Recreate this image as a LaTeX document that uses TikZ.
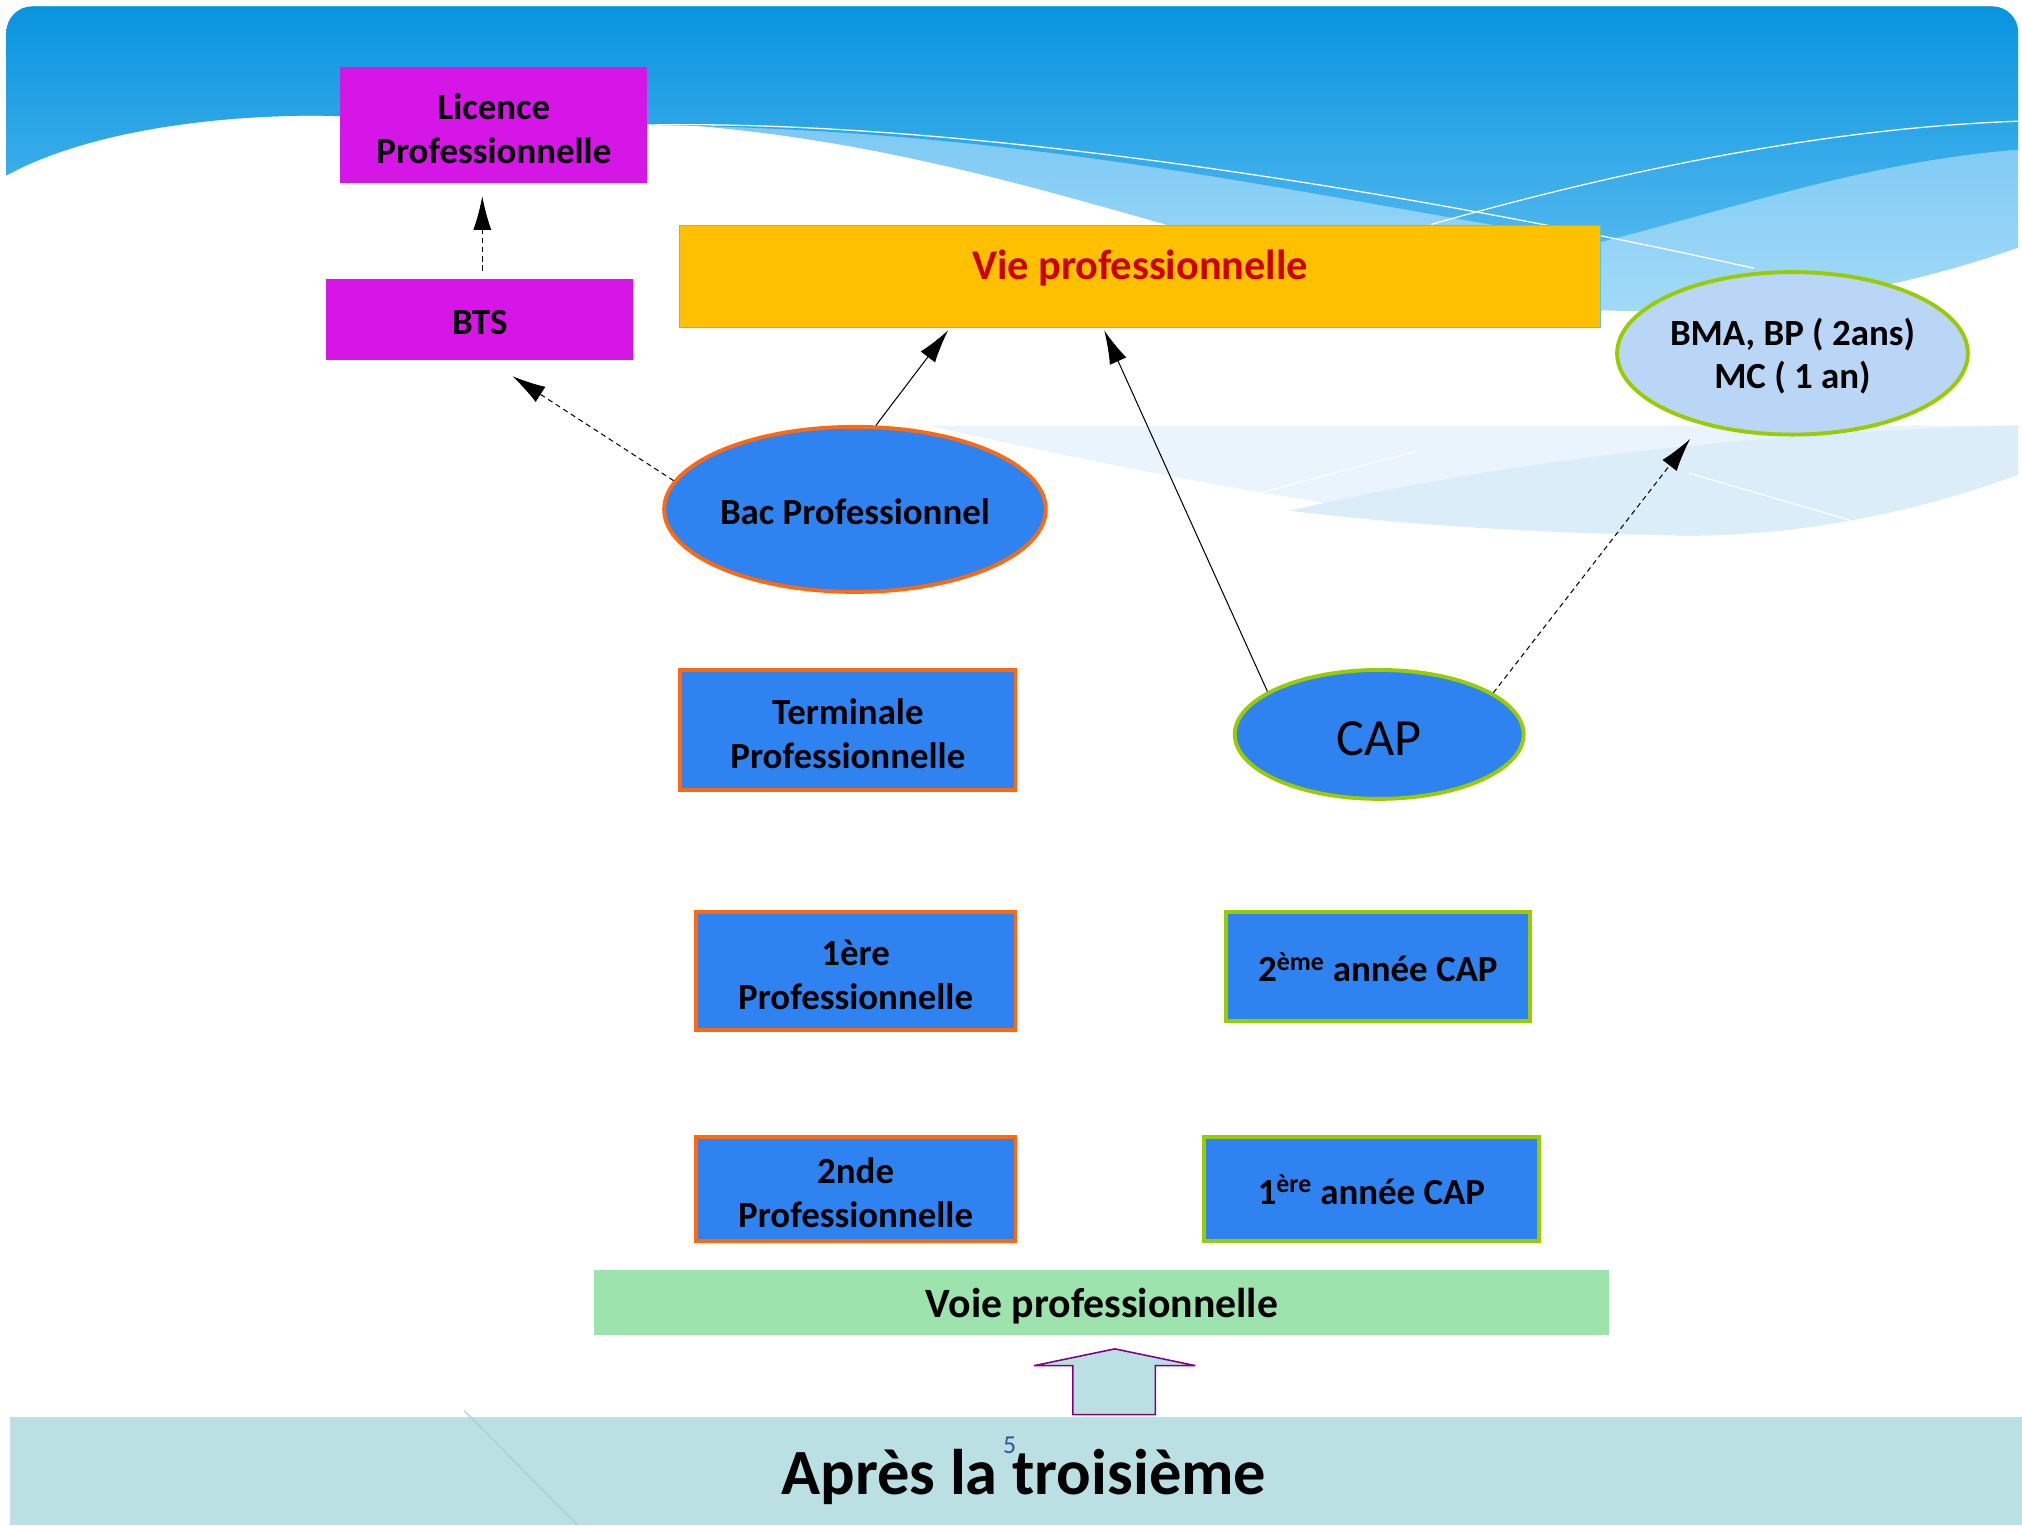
\documentclass[tikz,border=0pt]{standalone}
\usepackage{fontspec}
\setmainfont{Carlito}
\usepackage{tikz}
\usetikzlibrary{arrows.meta,shapes,positioning,calc}

\definecolor{boxblue}{HTML}{2E83F0}
\definecolor{edgeorange}{HTML}{FF6A10}
\definecolor{edgegreen}{HTML}{99CC00}
\definecolor{lilac}{HTML}{D616E6}
\definecolor{gold}{HTML}{FFC000}
\definecolor{goldedge}{HTML}{5BC2E0}
\definecolor{vired}{HTML}{CC0000}
\definecolor{mint}{HTML}{9DE3AE}
\definecolor{pale}{HTML}{BBE0E3}
\definecolor{paleline}{HTML}{A6D3D8}
\definecolor{skyblue}{HTML}{B9D6F7}
\definecolor{topblue}{HTML}{0894DF}
\definecolor{midblue}{HTML}{4FB7EE}
\definecolor{ribbon}{HTML}{66BFF1}
\definecolor{ribbonlow}{HTML}{A2DAF8}
\definecolor{mist}{HTML}{E9F4FC}
\definecolor{mistdark}{HTML}{DCEDFA}
\definecolor{numblue}{HTML}{2F5597}
\definecolor{plum}{HTML}{800080}

\begin{document}
\begin{tikzpicture}[x=1pt, y=-1pt,
        prof/.style={rectangle, draw=edgeorange, fill=boxblue, line width=3pt, align=center, inner sep=0pt, font=\bfseries\fontsize{28.6}{34}\selectfont},
        capr/.style={prof, draw=edgegreen},
        oval/.style={ellipse, fill=boxblue, line width=3pt, align=center, inner sep=0pt, font=\bfseries\fontsize{28.6}{34}\selectfont},
        highbox/.style={rectangle, fill=lilac, align=center, inner sep=0pt, font=\bfseries\fontsize{28.6}{34}\selectfont},
        oneline/.style={text height=24pt},
        twoline/.style={text height=60pt, text depth=0pt},
        link/.style={-{Latex[length=26pt,width=14pt]}, line width=0.8pt},
        dashlink/.style={link, dash pattern=on 4pt off 3pt}]
    \useasboundingbox (0,0) rectangle (1568,1182.6);

    % background: blue wave on top, pale ribbon in the middle, band at the bottom
    \shade[top color=ribbon, bottom color=ribbonlow] (5,136) [rounded corners=20pt] -- (5,5) -- (1565,5) [sharp corners] -- (1565,192)
        .. controls (1500,215) and (1400,242) .. (1255,241) .. controls (1000,235) and (800,110) .. (500,95) -- (260,90) .. controls (200,88) and (80,95) .. (5,136) -- cycle;
    \shade[top color=topblue, bottom color=midblue] (5,136) [rounded corners=20pt] -- (5,5) -- (1565,5) [sharp corners] -- (1565,116)
        .. controls (1450,125) and (1350,160) .. (1240,188) .. controls (1000,150) and (800,100) .. (500,97) -- (260,90) .. controls (200,88) and (80,95) .. (5,136) -- cycle;
    \draw[white, line width=1pt] (500,97) .. controls (750,92) and (1100,150) .. (1360,208);
    \draw[white, line width=1pt] (1110,174) .. controls (1300,120) and (1450,98) .. (1565,94);
    \fill[mist] (720,330) -- (1565,330) -- (1565,368) .. controls (1480,400) and (1380,418) .. (1290,415) .. controls (1100,410) and (900,370) .. (720,330) -- cycle;
    \fill[mistdark] (1000,396) .. controls (1200,350) and (1400,334) .. (1565,330) -- (1565,368) .. controls (1480,400) and (1380,418) .. (1290,415) .. controls (1180,413) and (1080,406) .. (1000,396) -- cycle;
    \draw[white, line width=0.8pt] (970,384) -- (1098,350);
    \draw[white, line width=0.8pt] (1310,367) -- (1440,405);
    \fill[pale] (8,1099) rectangle (1568,1182.6);
    \draw[paleline, line width=1pt] (360,1094) -- (448,1182.6);

    % upper level
    \node[highbox, twoline, minimum width=238pt, minimum height=90pt] (lic) at (383,97) {Licence\\Professionnelle};
    \node[highbox, oneline, minimum width=238pt, minimum height=63pt] (bts) at (372,247.5) {BTS};
    \node[rectangle, draw=goldedge, fill=gold, line width=1pt, minimum width=714pt, minimum height=79pt, text height=24pt, text depth=20pt, text=vired, font=\bfseries\fontsize{32.8}{38}\selectfont] (vie) at (884,214.5) {Vie professionnelle};
    \node[oval, text depth=0pt, fill=skyblue, draw=edgegreen, minimum width=272pt, minimum height=126pt] (bma) at (1390,274) {BMA, BP ( 2ans)\\MC ( 1 an)};

    % bac pro track
    \node[oval, oneline, draw=edgeorange, minimum width=296pt, minimum height=128pt] (bac) at (663,395) {Bac Professionnel};
    \node[prof, twoline, minimum width=260pt, minimum height=93pt] (term) at (657.5,566) {Terminale\\Professionnelle};
    \node[prof, twoline, minimum width=248pt, minimum height=91pt] (prem) at (663.5,753) {1ère\\Professionnelle};
    \node[prof, twoline, minimum width=248pt, minimum height=81pt] (sec) at (663.5,922) {2nde\\Professionnelle};

    % cap track
    \node[oval, draw=edgegreen, minimum width=224pt, minimum height=100pt, text height=33pt, font=\fontsize{40.5}{48}\selectfont] (cap) at (1069.5,569.5) {CAP};
    \node[capr, oneline, minimum width=236pt, minimum height=84pt] (cap2) at (1068.5,749.5) {2\textsuperscript{ème} année CAP};
    \node[capr, oneline, minimum width=260pt, minimum height=81pt] (cap1) at (1063.5,922) {1\textsuperscript{ère} année CAP};

    % entry
    \node[rectangle, fill=mint, minimum width=787pt, minimum height=50pt, text height=30pt, text depth=6pt, font=\bfseries\fontsize{32.4}{38}\selectfont] (voie) at (854.5,1010) {Voie professionnelle};
    \node[font=\bfseries\fontsize{50}{60}\selectfont] (after) at (794,1145) {Après la troisième};
    \node[text=numblue, font=\fontsize{20}{24}\selectfont, inner sep=0pt] (page) at (783,1121) {5};
    \draw[plum, fill=pale, line width=1.2pt, miter limit=2] (832,1097) -- (832,1059) -- (802,1059) -- (864.5,1046) -- (927,1059) -- (896,1059) -- (896,1097) -- cycle; % block arrow up to voie

    % connectors
    \draw[dashlink, shorten <=6pt, shorten >=10pt] ([xshift=2pt]bts.north) -- ([xshift=2pt]bts.north |- lic.south); % BTS -> licence
    \draw[dashlink, shorten >=23pt] (bac.171) -- ([xshift=6pt]bts.south);          % bac -> BTS
    \draw[link, shorten >=2pt] (bac.76) -- ([xshift=210pt]vie.south west);          % bac -> vie pro
    \draw[link, shorten >=2pt] (cap.159) -- ([xshift=329pt]vie.south west);         % CAP -> vie pro
    \draw[dashlink, shorten >=14pt] (cap.20) -- (bma.218);                           % CAP -> BMA, BP, MC
\end{tikzpicture}
\end{document}
